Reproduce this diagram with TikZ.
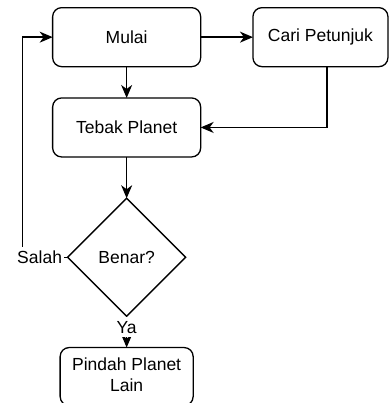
\documentclass[tikz,border=0pt]{standalone}
\usepackage{fontspec}
\setmainfont{Liberation Sans}
\usetikzlibrary{arrows.meta, matrix, shapes.geometric}

\begin{document}
\begin{tikzpicture}[x = 1pt, y = -1pt, line width = 1.3pt, font = \fontsize{17.5}{21}\selectfont,
    >={Stealth[length = 13pt, width = 11pt, inset = 4pt]},
    box/.style = {draw, rounded corners = 9pt, anchor = center, minimum width = 148pt, minimum height = 59pt, inner sep = 0pt, outer sep = 0pt},
    choice/.style = {diamond, sharp corners, aspect = 1, minimum size = 118pt},
    description/.style = {fill = white, inner xsep = 2pt, inner ysep = 4pt}]
  \useasboundingbox (0,0) rectangle (391,403);
  \matrix (m) [matrix of nodes, nodes = {box}, row sep = 30pt, column sep = 51pt, inner sep = 0pt, outer sep = 0pt, matrix anchor = north west] at (52,7)
  {
    Mulai & |[minimum width = 135pt]| Cari Petunjuk \\
    Tebak Planet \\[10pt]
    |[choice]| Benar? \\
    |[minimum width = 133pt, minimum height = 58pt]| \begin{tabular}{@{}c@{}}Pindah Planet\\Lain\end{tabular} \\
  };
  \path[->] (m-1-1) edge (m-1-2)
            (m-1-1) edge (m-2-1)
            (m-2-1) edge (m-3-1)
            (m-3-1) edge node[description, pos = 0.35] (ya) {Ya} (m-4-1);
  \draw[->] ([xshift = 6.5pt]m-1-2.south) |- (m-2-1.east);
  \draw[->] (m-3-1.west) -- ++(-45,0) |- (m-1-1.west);
  \node[description, anchor = east] (salah) at ([xshift = -3pt]m-3-1.west) {Salah};
\end{tikzpicture}
\end{document}
